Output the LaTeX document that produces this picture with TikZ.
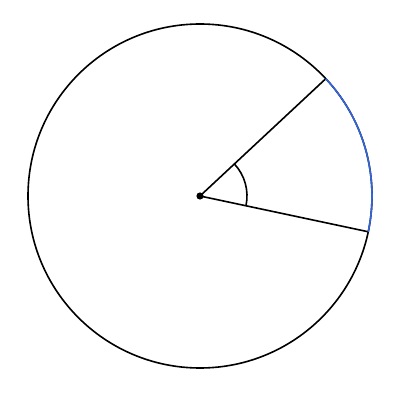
\documentclass[tikz,border=0pt]{standalone}
\begin{document}
\begin{tikzpicture}[x=1pt,y=1pt,
  stroke/.style={line width=1.6pt,black},
  arcblue/.style={line width=1.6pt,draw={rgb,255:red,50;green,100;blue,220}}]
\useasboundingbox (0,0) rectangle (400,400);
\coordinate (O) at (200,204);
\path (O) ++(43:172) coordinate (A);
\path (O) ++(-12:172) coordinate (B);
\draw[stroke] (O) circle (172);
\draw[stroke] (A) -- (O) -- (B);
\draw[arcblue] (B) arc[start angle=-12,end angle=43,radius=172];
\draw[stroke] (O) ++(-12:47) coordinate (C) arc[start angle=-12,end angle=43,radius=47];
\fill (O) circle (3.6);
\end{tikzpicture}
\end{document}
